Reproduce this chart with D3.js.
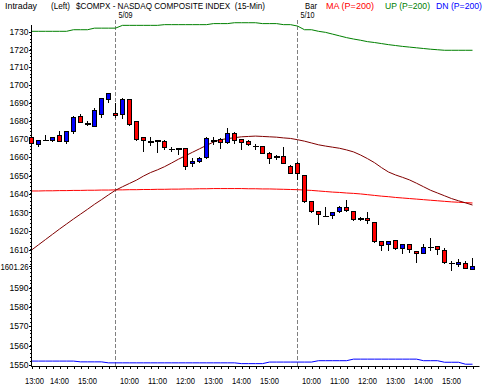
<!DOCTYPE html>
<html>
<head>
<meta charset="utf-8">
<script src="https://cdn.jsdelivr.net/npm/d3@7"></script>
<style>
body { margin: 0; background: #fff; }
svg { display: block; font-family: "Liberation Sans", Arial, sans-serif; }
</style>
</head>
<body>
<div id="main-vis"></div>
<script>
// 15-min bars, 5/08 13:00 -> 5/10 15:45
var opens  = [1670.6,1667.0,1669.3,1669.3,1672.1,1668.4,1673.9,1682.2,1678.3,1676.8,1683.7,1692.1,
              1684.1,1683.3,1691.9,1679.4,1670.8,1668.4,1668.8,1668.8,1664.2,1664.4,1664.8,1656.3,1657.8,1659.6,1668.9,1669.7,1668.1,1673.0,1669.7,1668.4,1666.0,1665.6,1662.0,1660.2,1660.6,1655.1,
              1656.8,1650.1,1635.8,1630.6,1627.7,1628.2,1630.5,1632.6,1630.6,1626.4,1627.0,1624.5,1614.2,1613.0,1614.9,1610.6,1612.6,1609.4,1608.2,1611.3,1611.9,1609.9,1602.9,1602.0,1602.9,1599.7];
var highs  = [1671.2,1669.6,1672.4,1671.3,1674.3,1674.5,1682.5,1683.7,1679.7,1686.9,1692.5,1695.5,
              1690.2,1692.5,1692.2,1679.8,1670.8,1671.2,1669.3,1669.2,1665.7,1664.8,1665.2,1659.3,1660.2,1671.2,1671.2,1670.5,1675.8,1673.9,1670.0,1669.3,1667.5,1666.0,1662.9,1661.4,1665.6,1655.5,
              1657.6,1650.5,1636.2,1631.0,1632.9,1630.3,1633.4,1636.9,1631.0,1627.7,1630.3,1624.8,1614.4,1614.4,1615.2,1612.8,1612.9,1609.6,1613.1,1616.2,1612.2,1610.8,1604.1,1605.1,1604.2,1605.5];
var lows   = [1666.5,1665.8,1669.3,1668.3,1668.1,1667.1,1672.8,1678.8,1677.2,1676.5,1681.4,1689.7,
              1681.4,1680.8,1677.4,1668.9,1662.9,1666.0,1662.5,1664.2,1663.0,1661.1,1652.9,1654.7,1656.8,1659.0,1666.6,1664.3,1667.5,1667.5,1664.2,1666.0,1664.2,1661.6,1656.3,1658.3,1656.3,1650.7,
              1647.5,1635.0,1629.5,1623.4,1627.4,1626.3,1629.5,1630.0,1625.6,1625.6,1623.6,1613.6,1609.4,1609.4,1609.9,1607.8,1608.2,1603.2,1607.9,1609.5,1607.3,1602.5,1599.0,1601.0,1599.9,1599.5];
var closes = [1667.5,1669.3,1669.3,1670.8,1668.8,1674.3,1681.8,1679.2,1678.3,1685.9,1692.4,1695.2,
              1682.8,1691.9,1678.2,1669.9,1668.9,1668.4,1668.8,1665.3,1664.2,1664.4,1655.1,1657.4,1659.3,1670.3,1668.9,1668.1,1673.0,1669.3,1668.1,1667.1,1666.0,1662.0,1659.3,1660.2,1656.7,1651.1,
              1651.1,1636.0,1630.6,1628.9,1627.7,1630.0,1632.6,1631.2,1626.3,1626.4,1625.6,1614.4,1612.5,1614.2,1610.8,1612.6,1610.3,1608.2,1611.1,1611.3,1610.3,1603.2,1602.9,1603.3,1600.2,1601.26];

var ma200 = [1641.6,1641.6,1641.7,1641.7,1641.8,1641.8,1641.9,1641.9,1642.0,1642.0,1642.1,
             1642.1,1642.2,1642.2,1642.3,1642.3,1642.4,1642.4,1642.5,1642.5,1642.6,
             1642.6,1642.7,1642.7,1642.8,1642.8,1642.9,1642.9,1642.9,1642.9,1642.9,1642.8,
             1642.8,1642.7,1642.7,1642.6,1642.5,1642.4,
             1642.3,1642.1,1641.9,1641.6,1641.3,1641.0,1640.8,1640.5,1640.3,1640.0,1639.6,
             1639.2,1638.8,1638.5,1638.1,1637.8,1637.5,1637.2,1636.9,1636.6,1636.3,1636.0,1635.7,
             1635.5,1635.3,1635.1];
var up200 = [1730.4,1730.4,1730.4,1730.4,1730.4,1730.4,1731.3,1731.3,1731.3,1732.2,1732.2,1732.2,
             1732.2,1733.8,1733.8,1733.8,1733.8,1733.8,1733.8,1734.2,1734.2,1734.2,1734.2,1734.2,1734.2,1734.2,
             1734.8,1734.8,1734.8,1735.3,1735.3,1735.3,1735.3,1734.8,1734.8,1734.8,1734.2,1734.2,
             1733.4,1731.3,1731.3,1730.4,1729.8,1728.8,1727.8,1726.8,1726.0,1725.3,1724.5,1724.0,1723.4,
             1722.8,1722.3,1721.8,1721.4,1721.0,1720.6,1720.2,1719.9,1719.6,1719.6,1719.6,1719.6,1719.6];
var dn200 = [1552.0,1552.0,1552.0,1552.0,1552.0,1552.0,1552.0,1551.6,1551.6,1551.6,1551.6,
             1551.1,1551.1,1551.1,1551.1,1551.1,1551.1,1551.1,1551.1,1551.1,1551.1,1551.1,1551.1,1551.1,
             1551.1,1551.1,1551.1,1551.1,1551.1,1551.1,1550.7,1550.7,1550.7,1550.7,
             1551.5,1551.5,1551.5,1551.5,1551.5,1551.5,1551.5,1552.2,1552.2,1552.2,1552.2,1552.2,
             1553.0,1553.0,1553.0,1553.0,1553.0,1553.0,1553.0,1553.0,1553.0,1553.0,
             1552.2,1552.2,1552.2,1551.4,1551.4,1551.4,1550.4,1550.4];
var maShort = [1609.9,1612.7,1615.5,1618.3,1621.1,1623.8,1626.5,1629.1,1631.7,1634.4,
               1636.9,1639.5,1642.0,1643.9,1645.7,1647.5,1649.7,1651.6,1653.1,1654.8,
               1656.8,1658.9,1660.8,1662.7,1664.6,1666.5,1668.3,1669.6,1670.2,1670.7,
               1671.2,1671.4,1671.6,1671.4,1671.2,1671.0,1670.6,1670.3,1669.6,1668.8,
               1667.8,1666.8,1666.1,1665.5,1664.9,1664.0,1662.9,1661.2,1659.2,1657.0,
               1654.3,1651.9,1650.3,1649.0,1647.6,1645.8,1643.9,1642.0,1640.5,1639.0,
               1637.5,1636.3,1635.2,1634.0];

var yTicks = [1550,1560,1570,1580,1590,1601.26,1610,1620,1630,1640,1650,1660,1670,1680,1690,1700,1710,1720,1730];
var timeTickIdx = [0,4,8,14,18,22,26,30,34,40,44,48,52,56,60];
var timeTickLabels = ["13:00","14:00","15:00","10:00","11:00","12:00","13:00","14:00","15:00",
                      "10:00","11:00","12:00","13:00","14:00","15:00"];
var dayIdx = [12, 38];
var dayLabels = ["5/09", "5/10"];

var width = 488, height = 387;
var x0 = 31.5, barStep = 7;

var x = d3.scaleLinear().domain([0, 1]).range([x0, x0 + barStep]);
var y = d3.scaleLog().domain([1550, 1730]).range([365, 32]);

var svg = d3.select("#main-vis").append("svg")
     .attr("width", width)
     .attr("height", height);

// header (widths fitted to the bitmap font of the original)
var header = [
     { t: "Intraday", x: 5, w: 32, c: "#000" },
     { t: "(Left)", x: 51, w: 19, c: "#000" },
     { t: "$COMPX - NASDAQ COMPOSITE INDEX  (15-Min)", x: 76, w: 189, c: "#000" },
     { t: "Bar", x: 305, w: 12, c: "#000" },
     { t: "MA (P=200)", x: 326, w: 48, c: "#ff0000" },
     { t: "UP (P=200)", x: 385, w: 45, c: "#008000" },
     { t: "DN (P=200)", x: 436, w: 46, c: "#0000ff" }
];
svg.selectAll(".hdr").data(header).enter().append("text")
     .attr("x", function (d) { return d.x; })
     .attr("y", 9)
     .attr("font-size", "9px")
     .attr("textLength", function (d) { return d.w; })
     .attr("lengthAdjust", "spacingAndGlyphs")
     .attr("fill", function (d) { return d.c; })
     .style("white-space", "pre")
     .text(function (d) { return d.t; });

// day separators
svg.selectAll(".sep").data(dayIdx).enter().append("line")
     .attr("x1", function (d) { return x(d); })
     .attr("x2", function (d) { return x(d); })
     .attr("y1", 20)
     .attr("y2", 366)
     .attr("stroke", "#808080")
     .attr("stroke-dasharray", "4,2");
svg.selectAll(".day").data(dayIdx).enter().append("text")
     .attr("x", function (d) { return x(d) + 3; })
     .attr("y", 18)
     .attr("font-size", "9px")
     .attr("textLength", 14)
     .attr("lengthAdjust", "spacingAndGlyphs")
     .text(function (d, i) { return dayLabels[i]; });

// indicator lines
function drawLine(vals, color) {
     var line = d3.line()
          .x(function (d, i) { return x(i); })
          .y(function (d) { return y(d); });
     svg.append("path")
          .datum(vals)
          .attr("fill", "none")
          .attr("stroke", color)
          .attr("stroke-width", 1)
          .attr("d", line);
}
drawLine(up200, "#008000");
drawLine(ma200, "#ff0000");
drawLine(dn200, "#0000ff");
drawLine(maShort, "#800000");

// left axis
var yAxis = svg.append("g")
     .attr("transform", "translate(" + x0 + ",0)")
     .attr("shape-rendering", "crispEdges")
     .call(d3.axisLeft(y).tickValues(yTicks).tickSize(3).tickSizeOuter(0).tickPadding(0)
          .tickFormat(function (d) { return d; }));
yAxis.select(".domain").remove();
yAxis.selectAll("text")
     .attr("font-size", "8.5px")
     .attr("font-family", "Liberation Sans, Arial, sans-serif")
     .attr("fill", "#000")
     .filter(function (d) { return d === 1601.26; })
     .attr("textLength", 28)
     .attr("lengthAdjust", "spacingAndGlyphs");
yAxis.selectAll("line").attr("stroke", "#000");
svg.append("g").attr("shape-rendering", "crispEdges")
     .selectAll("line").data(d3.range(1552, 1730, 2)).enter().append("line")
     .attr("x1", x0 - 2).attr("x2", x0)
     .attr("y1", function (d) { return y(d); })
     .attr("y2", function (d) { return y(d); })
     .attr("stroke", "#000");
svg.append("line")
     .attr("x1", x0).attr("x2", x0).attr("y1", 25).attr("y2", 366.5)
     .attr("stroke", "#000").attr("shape-rendering", "crispEdges");

// bottom axis
var xAxis = svg.append("g")
     .attr("transform", "translate(0,366)")
     .attr("shape-rendering", "crispEdges")
     .call(d3.axisBottom(x).tickValues(d3.range(0, opens.length)).tickSize(3).tickSizeOuter(0)
          .tickFormat(""));
xAxis.select(".domain").remove();
xAxis.selectAll("line").attr("stroke", "#000");
svg.append("line")
     .attr("x1", x0).attr("x2", x(opens.length)).attr("y1", 366.5).attr("y2", 366.5)
     .attr("stroke", "#000");
svg.selectAll(".tl").data(timeTickIdx).enter().append("text")
     .attr("x", function (d) { return d === 0 ? x(d) + 3 : x(d); })
     .attr("y", 384)
     .attr("text-anchor", "middle")
     .attr("font-size", "8.5px")
     .attr("textLength", 19)
     .attr("lengthAdjust", "spacingAndGlyphs")
     .text(function (d, i) { return timeTickLabels[i]; });

// candles
var idx = d3.range(opens.length);
var cg = svg.append("g").attr("shape-rendering", "crispEdges");
cg.selectAll(".wick").data(idx).enter().append("line")
     .attr("x1", function (i) { return x(i); })
     .attr("x2", function (i) { return x(i); })
     .attr("y1", function (i) { return y(highs[i]); })
     .attr("y2", function (i) { return y(lows[i]); })
     .attr("stroke", "#000");
cg.selectAll(".body").data(idx.filter(function (i) { return opens[i] !== closes[i]; })).enter().append("rect")
     .attr("x", function (i) { return x(i) - 2; })
     .attr("width", 4)
     .attr("y", function (i) { return y(Math.max(opens[i], closes[i])); })
     .attr("height", function (i) { return Math.max(1.5, Math.abs(y(opens[i]) - y(closes[i]))); })
     .attr("fill", function (i) { return closes[i] > opens[i] ? "#0000ff" : "#ff0000"; })
     .attr("stroke", "#000");
cg.selectAll(".doji").data(idx.filter(function (i) { return opens[i] === closes[i]; })).enter().append("line")
     .attr("x1", function (i) { return x(i) - 3; })
     .attr("x2", function (i) { return x(i) + 3; })
     .attr("y1", function (i) { return y(opens[i]); })
     .attr("y2", function (i) { return y(opens[i]); })
     .attr("stroke", "#000")
     .attr("stroke-width", 1.5);
</script>
</body>
</html>
